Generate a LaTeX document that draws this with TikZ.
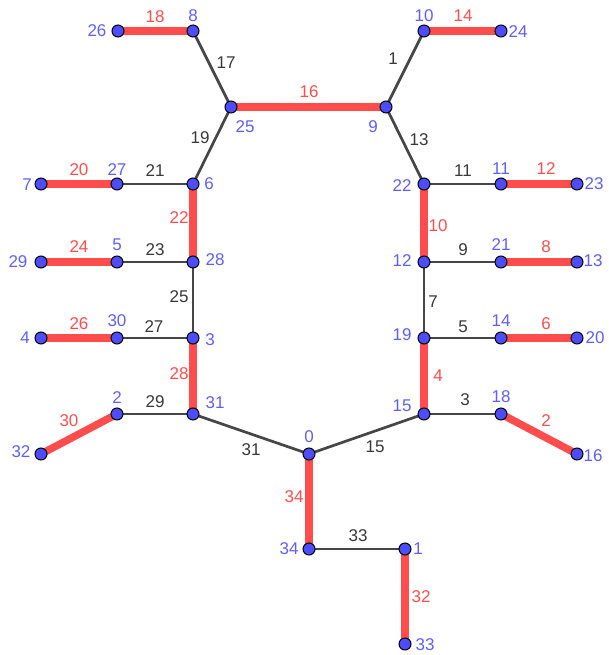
\documentclass[tikz,border=0pt]{standalone}
\usepackage{fontspec}
\setmainfont{Liberation Sans}
\usetikzlibrary{backgrounds}
\definecolor{ggred}{RGB}{255,77,77}
\definecolor{ggblue}{RGB}{77,77,255}
\definecolor{gglab}{RGB}{95,95,255}
\definecolor{gggray}{RGB}{70,70,70}
\begin{document}
\begin{tikzpicture}[x=1pt,y=-1pt,
  pt/.style={circle,fill=ggblue,draw=black,line width=1pt,inner sep=0pt,minimum size=12pt},
  vl/.style={text=gglab,font=\fontsize{17}{19}\selectfont,inner sep=0pt},
  el/.style={text=gggray!80!black,font=\fontsize{17}{19}\selectfont,inner sep=0pt},
  rl/.style={text=ggred,font=\fontsize{17}{19}\selectfont,inner sep=0pt},
  ge/.style={draw=gggray,line width=2.7pt},
  re/.style={draw=ggred,line width=7.5pt,line cap=butt}]
\useasboundingbox (0,0) rectangle (608,655);
% vertex dots
\foreach \n/\x/\y in {26/118/31, 8/193/31, 25/231/107, 9/386/107, 10/424/31, 24/501/31,
  6/193/184, 27/117/184, 7/41/184, 22/424/184, 11/501/184, 23/577/184,
  28/193/262, 5/117/262, 29/41/262, 12/424/262, 21/501/262, 13/577/262,
  3/193/338, 30/117/338, 4/41/338, 19/424/338, 14/501/338, 20/577/338,
  31/193/414, 2/117/414, 32/41/454, 15/424/414, 18/501/414, 16/577/454,
  0/309/454, 34/309/549, 1/405/549, 33/405/644}
  \node[pt] (v\n) at (\x,\y) {};
\begin{pgfonlayer}{background}
% gray edges
\foreach \a/\b in {8/25, 10/9, 25/6, 9/22, 27/6, 22/11, 5/28, 12/21, 28/3, 12/19,
  30/3, 19/14, 2/31, 15/18, 31/0, 0/15, 34/1}
  \draw[ge] (v\a.center) -- (v\b.center);
% red edges
\foreach \a/\b in {26/8, 10/24, 25/9, 7/27, 11/23, 6/28, 22/12, 29/5, 21/13, 4/30,
  14/20, 3/31, 19/15, 32/2, 18/16, 0/34, 1/33}
  \draw[re] (v\a.center) -- (v\b.center);
\end{pgfonlayer}
% vertex labels
\foreach \n/\x/\y in {26/97/31, 8/193/16, 25/245/127, 9/373/127, 10/424/16, 24/518/32,
  6/209/184, 27/117/170, 7/27/185, 22/402/186, 11/501/169, 23/594/184,
  28/215/260, 5/117/245, 29/18/262, 12/402/261, 21/501/245, 13/593/261,
  3/210/340, 30/117/321, 4/25/338, 19/402/335, 14/501/321, 20/595/338,
  31/215/403, 2/117/398, 32/21/452, 15/402/406, 18/501/397, 16/593/456,
  0/309/437, 34/289/549, 1/418/549, 33/425/645}
  \node[vl] (t\n) at (\x,\y) {\n};
% gray edge labels
\foreach \n/\x/\y in {17/226/63, 1/393/59, 19/200/138, 13/419/140, 21/155/171, 11/463/171,
  23/155/250, 9/463/250, 25/179/297, 7/433/302, 27/154/327, 5/463/327,
  29/155/402, 3/465/400, 31/251/450, 15/375/447, 33/358/536}
  \node[el] (g\n) at (\x,\y) {\n};
% red edge labels
\foreach \n/\x/\y in {18/155/17, 16/309/92, 14/463/16, 20/79/170, 12/546/169, 22/179/218,
  10/438/226, 24/79/247, 8/546/247, 26/79/324, 6/546/324, 28/179/374, 4/438/376,
  30/69/421, 2/546/421, 34/294/497, 32/421/597}
  \node[rl] (r\n) at (\x,\y) {\n};
\end{tikzpicture}
\end{document}
